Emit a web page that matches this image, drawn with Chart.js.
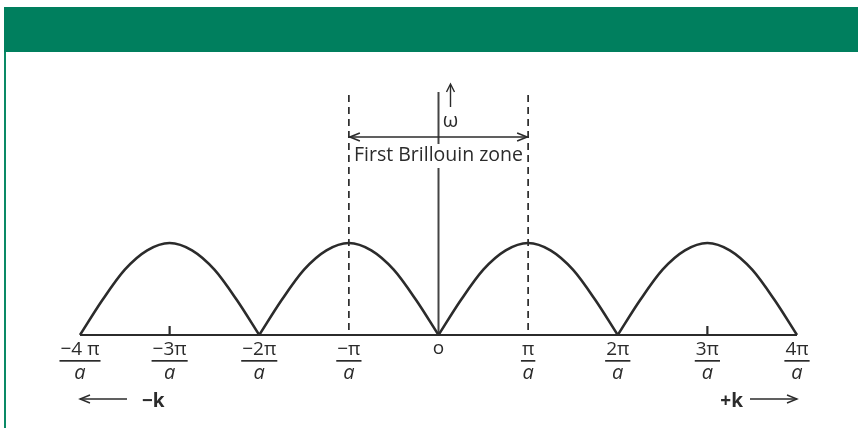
<!DOCTYPE html>
<html>
<head>
<meta charset="utf-8">
<script src="https://cdn.jsdelivr.net/npm/chart.js@4.4.1/dist/chart.umd.min.js"></script>
<style>
  html, body { margin: 0; padding: 0; background: #fff; }
  #wrap { position: relative; width: 858px; height: 428px; overflow: hidden; }
  #band { position: absolute; left: 4px; top: 7px; width: 854px; height: 45px; background: #007f5e; }
  #edge { position: absolute; left: 4px; top: 52px; width: 2px; height: 376px; background: #0a8a66; }
  canvas { position: absolute; left: 0; top: 0; }
</style>
</head>
<body>
<div id="wrap">
  <div id="band"></div>
  <div id="edge"></div>
  <canvas id="c" width="858" height="428"></canvas>
</div>
<script>
// Wave vector k in units of pi/a, and the frequency omega (peak = 1)
const kValues = [-4, -3.75, -3.5, -3.25, -3, -2.75, -2.5, -2.25, -2,
                 -1.75, -1.5, -1.25, -1, -0.75, -0.5, -0.25, 0,
                 0.25, 0.5, 0.75, 1, 1.25, 1.5, 1.75, 2,
                 2.25, 2.5, 2.75, 3, 3.25, 3.5, 3.75, 4];
const omegaValues = [0, 0.38, 0.71, 0.92, 1, 0.92, 0.71, 0.38, 0,
                     0.38, 0.71, 0.92, 1, 0.92, 0.71, 0.38, 0,
                     0.38, 0.71, 0.92, 1, 0.92, 0.71, 0.38, 0,
                     0.38, 0.71, 0.92, 1, 0.92, 0.71, 0.38, 0];

// Axis tick positions (k in pi/a) and their labels
const tickK = [-4, -3, -2, -1, 0, 1, 2, 3, 4];
const tickNumerators = ['\u22124 \u03c0', '\u22123\u03c0', '\u22122\u03c0', '\u2212\u03c0', 'o', '\u03c0', '2\u03c0', '3\u03c0', '4\u03c0'];
const tickDenominator = 'a';
const smallTickK = [-3, 3];
const zoneEdgesK = [-1, 1];
const zoneLabel = 'First Brillouin zone';
const omegaLabel = '\u03c9';
const leftLabel = '\u2212k';
const rightLabel = '+k';

// Split the dispersion curve into arches at each zero so the cusps stay sharp
const arches = [];
let current = [];
kValues.forEach((k, i) => {
  current.push({ x: k, y: omegaValues[i] });
  if (omegaValues[i] === 0 && current.length > 1) {
    arches.push(current);
    current = [{ x: k, y: omegaValues[i] }];
  }
});

const INK = '#2b2b2b';
const FONT = '"Open Sans", "DejaVu Sans", sans-serif';

function arrowHead(ctx, x, y, dir) {
  // open chevron arrow head; dir: 'l', 'r', 'u'
  ctx.beginPath();
  if (dir === 'r') { ctx.moveTo(x - 10, y - 4); ctx.lineTo(x, y); ctx.lineTo(x - 10, y + 4); }
  if (dir === 'l') { ctx.moveTo(x + 10, y - 4); ctx.lineTo(x, y); ctx.lineTo(x + 10, y + 4); }
  if (dir === 'u') { ctx.moveTo(x - 4, y + 8); ctx.lineTo(x, y); ctx.lineTo(x + 4, y + 8); }
  ctx.stroke();
}

const decor = {
  id: 'decor',
  beforeDatasetsDraw(chart) {
    const { ctx, chartArea } = chart;
    const xs = chart.scales.x, ys = chart.scales.y;
    const y0 = ys.getPixelForValue(0);
    ctx.save();
    ctx.strokeStyle = INK;
    ctx.lineCap = 'butt';
    // baseline
    ctx.lineWidth = 2.2;
    ctx.beginPath();
    ctx.moveTo(xs.getPixelForValue(-4), y0);
    ctx.lineTo(xs.getPixelForValue(4), y0);
    ctx.stroke();
    // small ticks
    smallTickK.forEach(k => {
      const x = xs.getPixelForValue(k);
      ctx.beginPath(); ctx.moveTo(x, y0); ctx.lineTo(x, y0 - 9); ctx.stroke();
    });
    // vertical omega axis
    ctx.strokeStyle = '#444';
    ctx.lineWidth = 2;
    const x0 = xs.getPixelForValue(0);
    ctx.beginPath(); ctx.moveTo(x0, chartArea.top); ctx.lineTo(x0, y0); ctx.stroke();
    // zone boundaries (dashed)
    ctx.strokeStyle = INK;
    ctx.lineWidth = 1.7;
    ctx.setLineDash([7, 5]);
    zoneEdgesK.forEach(k => {
      const x = xs.getPixelForValue(k);
      ctx.beginPath(); ctx.moveTo(x, chartArea.top + 3); ctx.lineTo(x, y0); ctx.stroke();
    });
    ctx.restore();
  },
  afterDatasetsDraw(chart) {
    const { ctx, chartArea } = chart;
    const xs = chart.scales.x, ys = chart.scales.y;
    const y0 = ys.getPixelForValue(0);
    ctx.save();
    ctx.fillStyle = INK;
    ctx.strokeStyle = INK;

    // tick labels as fractions
    tickK.forEach((k, i) => {
      const x = xs.getPixelForValue(k);
      ctx.textAlign = 'center';
      ctx.textBaseline = 'alphabetic';
      if (k === 0) {
        ctx.font = '19px ' + FONT;
        ctx.fillText(tickNumerators[i], x, y0 + 19);
        return;
      }
      ctx.font = '19px ' + FONT;
      ctx.fillText(tickNumerators[i], x, y0 + 20);
      const w = ctx.measureText(tickNumerators[i]).width;
      ctx.fillRect(x - w / 2 - 1, y0 + 25, w + 2, 1.7);
      ctx.font = 'italic 20px ' + FONT;
      ctx.fillText(tickDenominator, x, y0 + 44);
    });

    // first Brillouin zone arrow
    const xl = xs.getPixelForValue(zoneEdgesK[0]);
    const xr = xs.getPixelForValue(zoneEdgesK[1]);
    const ya = chartArea.top + 45;
    ctx.lineWidth = 1.6;
    ctx.beginPath(); ctx.moveTo(xl, ya); ctx.lineTo(xr, ya); ctx.stroke();
    arrowHead(ctx, xl + 1, ya, 'l');
    arrowHead(ctx, xr - 1, ya, 'r');

    ctx.font = '19.5px ' + FONT;
    ctx.textAlign = 'center';
    ctx.textBaseline = 'middle';
    const xm = (xl + xr) / 2;
    const tw = ctx.measureText(zoneLabel).width;
    ctx.fillStyle = '#fff';
    ctx.fillRect(xm - tw / 2, ya + 7, tw, 24);
    ctx.fillStyle = INK;
    ctx.fillText(zoneLabel, xm, ya + 18);

    // omega arrow and label
    const xo = xs.getPixelForValue(0) + 12;
    ctx.lineWidth = 1.4;
    ctx.beginPath(); ctx.moveTo(xo, chartArea.top - 7); ctx.lineTo(xo, chartArea.top + 15); ctx.stroke();
    arrowHead(ctx, xo, chartArea.top - 8, 'u');
    ctx.font = '20px ' + FONT;
    ctx.fillText(omegaLabel, xo, chartArea.top + 29);

    // direction labels
    const yb = y0 + 64;
    const xL = xs.getPixelForValue(-4);
    const xR = xs.getPixelForValue(4);
    ctx.lineWidth = 1.4;
    ctx.beginPath(); ctx.moveTo(xL, yb); ctx.lineTo(xL + 47, yb); ctx.stroke();
    arrowHead(ctx, xL, yb, 'l');
    ctx.beginPath(); ctx.moveTo(xR - 47, yb); ctx.lineTo(xR, yb); ctx.stroke();
    arrowHead(ctx, xR, yb, 'r');
    ctx.font = 'bold 19px ' + FONT;
    ctx.textAlign = 'left';
    ctx.fillText(leftLabel, xL + 62, yb + 3);
    ctx.textAlign = 'right';
    ctx.fillText(rightLabel, xR - 54, yb + 3);
    ctx.restore();
  }
};

new Chart(document.getElementById('c'), {
  type: 'line',
  data: {
    datasets: arches.map(a => ({
      data: a,
      borderColor: INK,
      borderWidth: 2.6,
      pointRadius: 0,
      fill: false,
      clip: false,
      cubicInterpolationMode: 'monotone'
    }))
  },
  options: {
    responsive: false,
    animation: false,
    devicePixelRatio: 1,
    layout: { padding: { left: 80, right: 61, top: 92, bottom: 93 } },
    plugins: { legend: { display: false }, tooltip: { enabled: false } },
    scales: {
      x: { type: 'linear', min: -4, max: 4, display: false },
      y: { type: 'linear', min: 0, max: 2.64, display: false }
    }
  },
  plugins: [decor]
});
</script>
</body>
</html>
